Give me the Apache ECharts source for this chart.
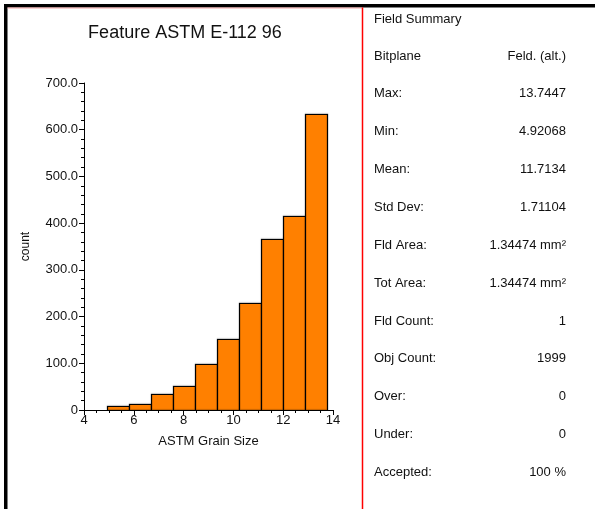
<!DOCTYPE html>
<html>
<head>
<meta charset="utf-8">
<script src="https://cdn.jsdelivr.net/npm/echarts@6/dist/echarts.min.js"></script>
<style>
  html, body { margin: 0; padding: 0; background: #fff; }
  #chart { width: 595px; height: 509px; }
</style>
</head>
<body>
<div id="chart"></div>
<script>
// Histogram bins: 10 equal-width classes spanning Min..Max of ASTM grain size
const binEdges = [4.9207, 5.8031, 6.6855, 7.5679, 8.4503, 9.3327, 10.2151, 11.0975, 11.9799, 12.8623, 13.7447];
const counts = [9, 13, 34, 51, 98, 153, 230, 365, 416, 633];

// Axis tick values
const xTicks = [4, 6, 8, 10, 12, 14];
const yTicks = [0, 100, 200, 300, 400, 500, 600, 700];

// Field summary panel
const summaryTitle = 'Field Summary';
const summaryLabels = ['Bitplane', 'Max:', 'Min:', 'Mean:', 'Std Dev:', 'Fld Area:', 'Tot Area:', 'Fld Count:', 'Obj Count:', 'Over:', 'Under:', 'Accepted:'];
const summaryValues = ['Feld. (alt.)', '13.7447', '4.92068', '11.7134', '1.71104', '1.34474 mm²', '1.34474 mm²', '1', '1999', '0', '0', '100 %'];

const FONT = 'Liberation Sans, Arial, Helvetica, sans-serif';

const barData = counts.map((c, i) => [binEdges[i], binEdges[i + 1], c]);

const panelText = [];
panelText.push({
  type: 'text', x: 374, y: 19,
  style: { text: summaryTitle, font: '13px ' + FONT, fill: '#111', textVerticalAlign: 'middle' }
});
summaryLabels.forEach((lab, i) => {
  const y = 56 + i * 37.85;
  panelText.push({
    type: 'text', x: 374, y: y,
    style: { text: lab, font: '13px ' + FONT, fill: '#111', textVerticalAlign: 'middle' }
  });
  panelText.push({
    type: 'text', x: 566, y: y,
    style: { text: summaryValues[i], font: '13px ' + FONT, fill: '#111', textAlign: 'right', textVerticalAlign: 'middle' }
  });
});

const chart = echarts.init(document.getElementById('chart'), null, { renderer: 'canvas' });

chart.setOption({
  backgroundColor: '#fff',
  animation: false,
  textStyle: { fontFamily: FONT },
  title: {
    text: 'Feature ASTM E-112 96',
    left: 180, top: 19, textAlign: 'center',
    textStyle: { fontSize: 18, fontWeight: 'normal', color: '#111', fontFamily: FONT }
  },
  grid: { left: 84, right: 262, top: 83, bottom: 99, containLabel: false },
  xAxis: {
    type: 'value',
    min: xTicks[0], max: xTicks[xTicks.length - 1], interval: 2,
    name: 'ASTM Grain Size', nameLocation: 'middle', nameGap: 25,
    nameTextStyle: { fontSize: 13, color: '#111' },
    axisLine: { show: true, onZero: false, lineStyle: { color: '#000', width: 1 } },
    axisTick: { show: true, length: 5, lineStyle: { color: '#000' } },
    minorTick: { show: true, splitNumber: 4, length: 3, lineStyle: { color: '#000' } },
    axisLabel: { fontSize: 13, color: '#111', margin: 4 },
    splitLine: { show: false }
  },
  yAxis: {
    type: 'value',
    min: yTicks[0], max: yTicks[yTicks.length - 1], interval: 100,
    name: 'count', nameLocation: 'middle', nameGap: 52, nameRotate: 90,
    nameTextStyle: { fontSize: 12, color: '#111' },
    axisLine: { show: true, onZero: false, lineStyle: { color: '#000', width: 1 } },
    axisTick: { show: true, length: 5, lineStyle: { color: '#000' } },
    minorTick: { show: true, splitNumber: 5, length: 3, lineStyle: { color: '#000' } },
    axisLabel: {
      fontSize: 13, color: '#111', margin: 6,
      formatter: v => (v === 0 ? '0' : v.toFixed(1))
    },
    splitLine: { show: false }
  },
  series: [{
    type: 'custom',
    data: barData,
    encode: { x: [0, 1], y: 2 },
    renderItem: (params, api) => {
      const p0 = api.coord([api.value(0), api.value(2)]);
      const p1 = api.coord([api.value(1), 0]);
      const x0 = Math.round(p0[0]) + 0.5, x1 = Math.round(p1[0]) + 0.5;
      const y0 = Math.round(p0[1]) + 0.5, y1 = Math.round(p1[1]) + 0.5;
      return {
        type: 'rect',
        shape: { x: x0, y: y0, width: x1 - x0, height: y1 - y0 },
        style: {
          fill: '#FF8000', stroke: '#000', lineWidth: 1.2,
          shadowColor: 'rgba(0,0,0,0.25)', shadowBlur: 1, shadowOffsetY: -1
        }
      };
    }
  }],
  graphic: [
    // page frame
    { type: 'rect', shape: { x: 4, y: 4, width: 591, height: 3.5 }, style: { fill: '#000' }, z: 100 },
    { type: 'rect', shape: { x: 4, y: 4, width: 3.5, height: 505 }, style: { fill: '#000' }, z: 100 },
    { type: 'line', shape: { x1: 7.5, y1: 8, x2: 362, y2: 8 }, style: { stroke: '#f2a5a5', lineWidth: 1 }, z: 100 },
    { type: 'line', shape: { x1: 362.5, y1: 7.5, x2: 362.5, y2: 509 }, style: { stroke: '#ff0000', lineWidth: 1.5 }, z: 100 }
  ].concat(panelText)
});
</script>
</body>
</html>
